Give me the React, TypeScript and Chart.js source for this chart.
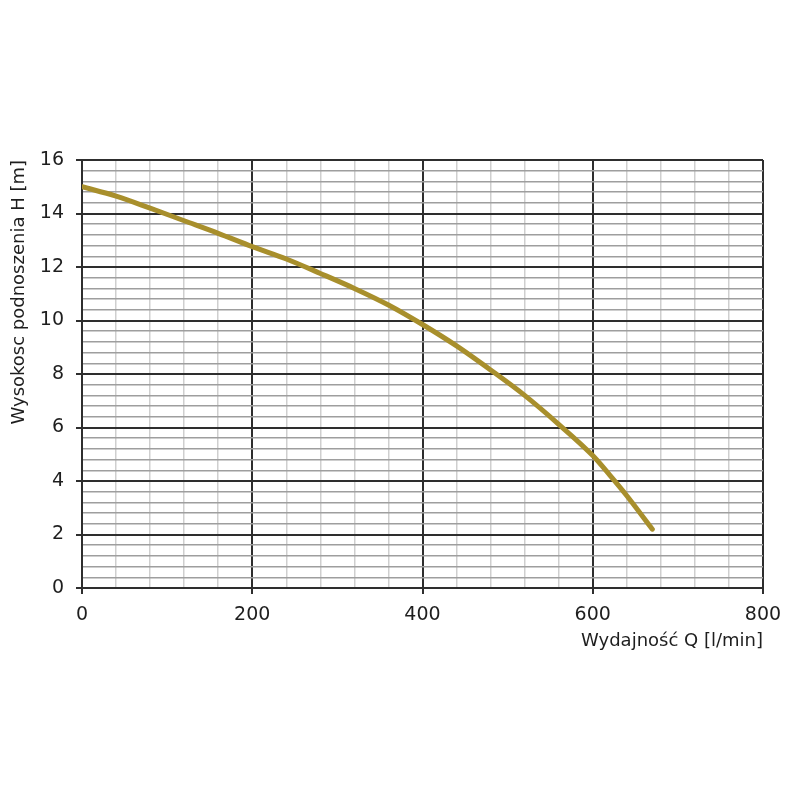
import React, { useEffect, useRef } from "react";
import { Chart, registerables } from "chart.js";

Chart.register(...registerables);

const flowQ = [0, 40, 80, 120, 160, 200, 240, 280, 320, 360, 400, 440, 480, 520, 560, 600, 620, 640, 670];
const headH = [15.0, 14.65, 14.2, 13.73, 13.26, 12.76, 12.3, 11.76, 11.2, 10.58, 9.85, 9.05, 8.15, 7.2, 6.12, 4.95, 4.22, 3.45, 2.2];
const xTitle = "Wydajność Q [l/min]";
const yTitle = "Wysokosc podnoszenia H [m]";

const FONT = "'DejaVu Sans', sans-serif";
const MAJOR = "#2e2e2e";

const isMult = (v: number, m: number) => Math.abs(v / m - Math.round(v / m)) < 1e-6;

export default function App() {
  const ref = useRef<HTMLCanvasElement | null>(null);
  useEffect(() => {
    if (!ref.current) return;
    const chart = new Chart(ref.current, {
      type: "line",
      data: {
        datasets: [
          {
            data: flowQ.map((q, i) => ({ x: q, y: headH[i] })),
            borderColor: "#a88f2c",
            borderWidth: 5,
            borderCapStyle: "round",
            pointRadius: 0,
            cubicInterpolationMode: "monotone",
            fill: false,
          },
        ],
      },
      options: {
        animation: false,
        responsive: false,
        devicePixelRatio: 1,
        layout: { padding: { left: 0, top: 160, right: 37, bottom: 0 } },
        plugins: { legend: { display: false }, tooltip: { enabled: false } },
        scales: {
          x: {
            type: "linear",
            min: 0,
            max: 800,
            afterFit: (s: any) => {
              s.height = 212;
            },
            ticks: {
              stepSize: 40,
              autoSkip: false,
              maxRotation: 0,
              padding: 10,
              color: "#1e1e1e",
              font: { family: FONT, size: 19, weight: "normal" },
              callback: (v: any) => (isMult(Number(v), 200) ? String(v) : ""),
            },
            grid: {
              color: (c: any) => (isMult(c.tick.value, 200) ? MAJOR : "#cfcfcf"),
              lineWidth: (c: any) => (isMult(c.tick.value, 200) ? 2 : 1.5),
              tickColor: (c: any) => (isMult(c.tick.value, 200) ? MAJOR : "rgba(0,0,0,0)"),
              tickLength: 6,
              tickWidth: 2,
            },
            border: { color: MAJOR, width: 2 },
            title: {
              display: true,
              text: xTitle,
              align: "end",
              color: "#1e1e1e",
              font: { family: FONT, size: 18, weight: "normal" },
              padding: { top: 0, bottom: 148 },
            },
          },
          y: {
            min: 0,
            max: 16,
            afterFit: (s: any) => {
              s.width = 82;
            },
            ticks: {
              stepSize: 0.4,
              autoSkip: false,
              padding: 12,
              color: "#1e1e1e",
              font: { family: FONT, size: 19, weight: "normal" },
              callback: (v: any) => (isMult(Number(v), 2) ? String(Math.round(Number(v))) : ""),
            },
            grid: {
              color: (c: any) => (isMult(c.tick.value, 2) ? MAJOR : "#9e9e9e"),
              lineWidth: (c: any) => (isMult(c.tick.value, 2) ? 2 : 1.5),
              tickColor: (c: any) => (isMult(c.tick.value, 2) ? MAJOR : "rgba(0,0,0,0)"),
              tickLength: 6,
              tickWidth: 2,
            },
            border: { color: MAJOR, width: 2 },
            title: {
              display: true,
              text: yTitle,
              align: "end",
              color: "#1e1e1e",
              font: { family: FONT, size: 18, weight: "normal" },
              padding: { top: 9, bottom: 0 },
            },
          },
        },
      },
    } as any);
    return () => chart.destroy();
  }, []);
  return (
    <div style={{ position: "fixed", left: 0, top: 0, width: 800, height: 800, background: "#fff" }}>
      <canvas ref={ref} width={800} height={800} style={{ width: 800, height: 800, display: "block" }} />
    </div>
  );
}
